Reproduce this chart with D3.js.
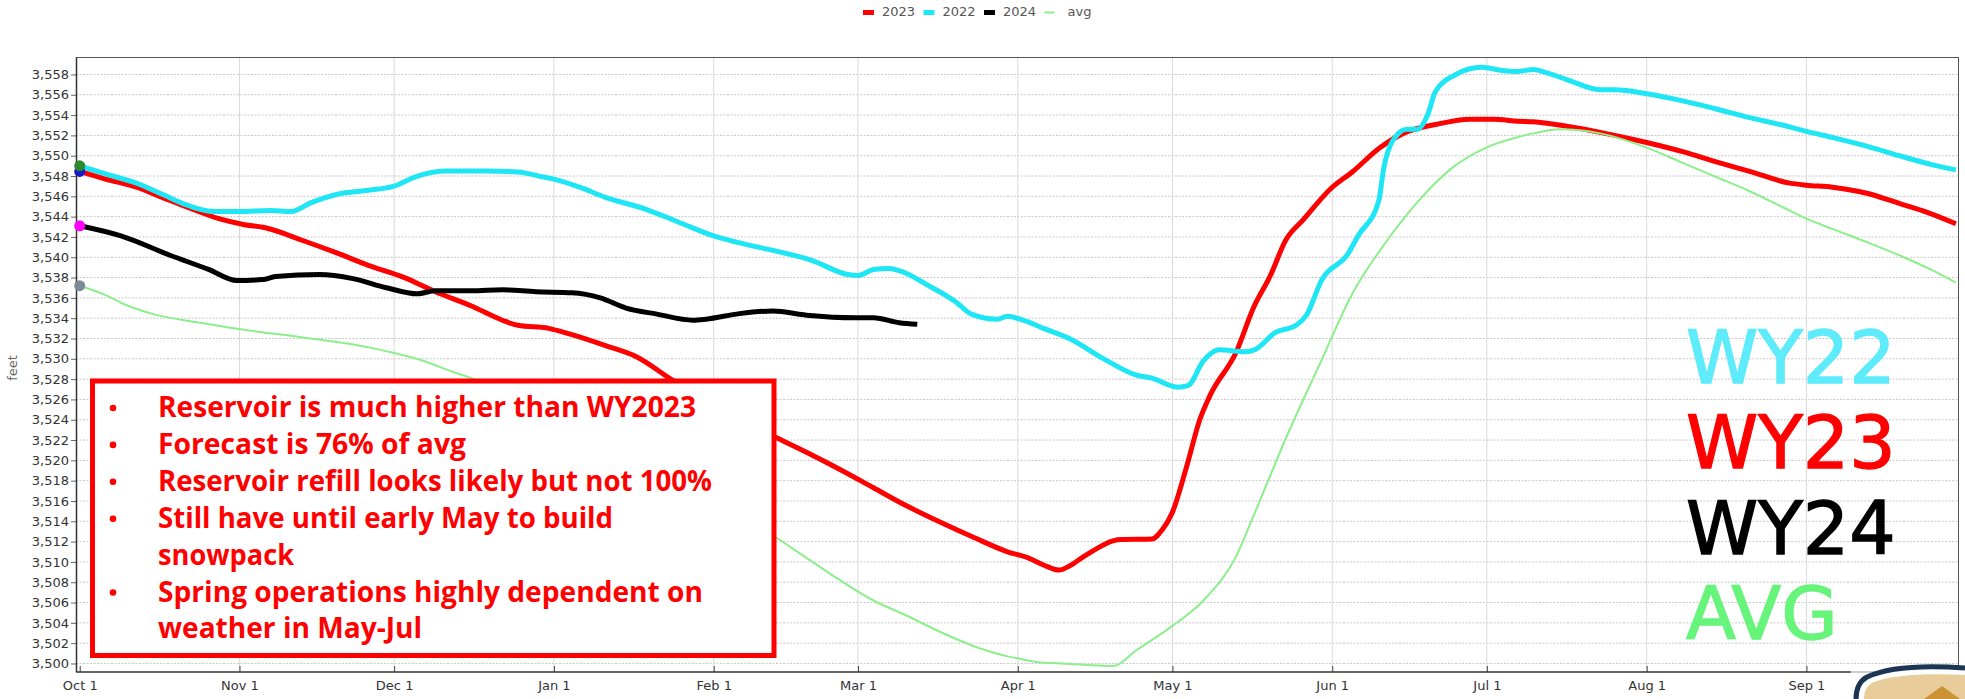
<!DOCTYPE html>
<html><head><meta charset="utf-8">
<script src="https://cdn.jsdelivr.net/npm/d3@7"></script>
<style>body{margin:0;background:#fff}svg{display:block}</style>
</head><body>
<svg id="chart" width="1965" height="699"></svg>
<script>
// ---------------- DATA ----------------
// day = days since Oct 1 of the water year, value = reservoir elevation (feet)
const legendLabels = ["2023", "2022", "2024", "avg"];
const monthTickLabels = ["Oct 1","Nov 1","Dec 1","Jan 1","Feb 1","Mar 1","Apr 1","May 1","Jun 1","Jul 1","Aug 1","Sep 1"];
const yTickValues = [3500,3502,3504,3506,3508,3510,3512,3514,3516,3518,3520,3522,3524,3526,3528,3530,3532,3534,3536,3538,3540,3542,3544,3546,3548,3550,3552,3554,3556,3558];

const wy2022Days   = [0,5,11,16,21,26,31,37,41,45,50,56,61,65,71,79,85,90,92,97,102,110,116,123,129,136,142,149,151,154,157,160,164,170,173,178,180,183,187,192,199,205,208,213,215,218,221,226,228,232,236,238,241,246,248,252,253,255.5,257.5,259.5,261.5,263,267,272,276,279,282,285,288.5,295,298,304,311,317.5,324,330.5,335,340,347,353,359.5,364];
const wy2022Values = [3549.0,3548.2,3547.3,3546.2,3545.1,3544.5,3544.5,3544.6,3544.5,3545.4,3546.2,3546.6,3547.0,3547.9,3548.5,3548.5,3548.4,3547.9,3547.7,3546.9,3545.9,3544.7,3543.5,3542.1,3541.3,3540.5,3539.7,3538.3,3538.2,3538.8,3538.9,3538.5,3537.4,3535.6,3534.4,3533.9,3534.2,3533.8,3533.0,3532.0,3529.9,3528.4,3528.1,3527.2,3527.35,3529.8,3530.9,3530.7,3530.9,3532.6,3533.3,3534.3,3537.8,3540.3,3542.1,3545.5,3548.8,3552.0,3552.6,3552.6,3554.0,3556.3,3558.0,3558.7,3558.4,3558.3,3558.5,3558.1,3557.5,3556.5,3556.5,3556.1,3555.4,3554.6,3553.75,3553.0,3552.4,3551.8,3550.9,3550.0,3549.1,3548.6];

const wy2023Days   = [0,5,11,16,21,27,32,36,43,50,56,63,69,76,82,85,91,95,102,108,115,125,134.5,141,147.5,154,160.5,167,173.5,180,184,187,190,192,195,202,208,210,212,214.7,217.3,219.3,224.4,227.7,231,234,237.4,242.6,247,252.3,256.8,263.3,269.7,274.3,279,282,288.5,295,304,311,317.5,324,331.8,335,340,346.7,353,358.3,364];
const wy2023Values = [3548.45,3547.7,3546.9,3545.9,3544.9,3543.8,3543.2,3542.9,3541.7,3540.4,3539.2,3538.0,3536.6,3535.2,3533.8,3533.3,3533.0,3532.45,3531.3,3530.2,3527.9,3524.9,3522.4,3520.8,3519.1,3517.3,3515.5,3513.9,3512.4,3511.0,3510.4,3509.7,3509.2,3509.6,3510.6,3512.2,3512.25,3513.15,3514.9,3519.3,3524.0,3526.4,3530.7,3535.0,3538.2,3541.7,3543.7,3546.7,3548.45,3550.8,3552.2,3553.1,3553.6,3553.6,3553.4,3553.35,3552.9,3552.3,3551.3,3550.4,3549.4,3548.45,3547.3,3547.1,3546.9,3546.3,3545.3,3544.45,3543.3];

const wy2024Days   = [0,8,17.5,25,30.5,35.5,38,46.5,53,59.5,65.5,69,76,82,88.5,95.5,101,106,112,119,121.5,128,134.5,141,150.5,154,159,162.5];
const wy2024Values = [3543.1,3542.1,3540.2,3538.8,3537.7,3537.8,3538.1,3538.3,3537.9,3537.0,3536.4,3536.7,3536.7,3536.8,3536.6,3536.5,3536.0,3535.0,3534.4,3533.8,3533.9,3534.45,3534.7,3534.3,3534.05,3534.05,3533.55,3533.4];

const avgDays   = [0,4.5,9,14.3,24,30.5,43.4,56.3,60.8,66,72.5,77,90,105,120,134.5,141,147.5,154,160.5,167,173.5,180,183,186.3,189,195.3,200.5,205,212,218,224.4,227.7,234.2,240.6,247.1,253.5,260,266.4,272.9,278.8,282,287.2,295,304,311,317.5,324,330.5,335,340,346.7,353,359.5,364];
const avgValues = [3537.2,3536.4,3535.3,3534.4,3533.5,3532.95,3532.1,3531.1,3530.6,3529.9,3528.7,3527.9,3524.6,3520.3,3516.8,3512.6,3510.4,3508.2,3506.2,3504.7,3503.1,3501.7,3500.7,3500.4,3500.1,3500.05,3499.85,3499.75,3501.3,3503.7,3506.2,3510.6,3514.5,3522.4,3529.5,3536.6,3541.55,3545.7,3548.85,3550.8,3551.8,3552.2,3552.6,3552.2,3550.8,3549.3,3547.9,3546.5,3544.9,3543.8,3542.8,3541.5,3540.2,3538.7,3537.5];

const noteLines = [
  "Reservoir is much higher than WY2023",
  "Forecast is 76% of avg",
  "Reservoir refill looks likely but not 100%",
  "Still have until early May to build",
  "snowpack",
  "Spring operations highly dependent on",
  "weather in May-Jul"
];
const noteBullets = [true, true, true, true, false, true, false];
const sideLabels = ["WY22", "WY23", "WY24", "AVG"];

// ---------------- LAYOUT / STYLE ----------------
const plot = {left: 76, right: 1959, top: 57, bottom: 672};
const DAY = 86400000;
const base = Date.UTC(2022, 9, 1);
const toDate = d => new Date(base + d * DAY);
const noteWidths = [538, 308, 554, 455, 136, 545, 264];

const svg = d3.select("#chart");
const x = d3.scaleUtc().domain([toDate(-0.72), toDate(364.6)]).range([plot.left, plot.right]);
const y = d3.scaleLinear().domain([3499.16, 3559.72]).range([plot.bottom, plot.top]);

const monthDates = monthTickLabels.map((_, i) => new Date(Date.UTC(2022, 9 + i, 1)));

// gridlines
const g = svg.append("g");
g.selectAll("line.h").data(yTickValues).join("line")
  .attr("x1", plot.left).attr("x2", plot.right)
  .attr("y1", d => y(d)).attr("y2", d => y(d))
  .attr("stroke", "#c8c8c8").attr("stroke-width", 1).attr("stroke-dasharray", "2,1.5");
g.selectAll("line.v").data(monthDates.slice(1)).join("line")
  .attr("x1", d => x(d)).attr("x2", d => x(d))
  .attr("y1", plot.top).attr("y2", plot.bottom)
  .attr("stroke", "#dadada").attr("stroke-width", 1);

// axes
const yAxis = d3.axisLeft(y).tickValues(yTickValues).tickFormat(d3.format(",")).tickSize(5).tickPadding(2);
const ya = svg.append("g").attr("transform", `translate(${plot.left},0)`).call(yAxis);
ya.select(".domain").remove();
ya.selectAll("line").attr("stroke", "#666");
ya.selectAll("text").attr("font-family", "DejaVu Sans, Verdana, sans-serif").attr("font-size", 13).attr("fill", "#333");

const xAxis = d3.axisBottom(x).tickValues(monthDates).tickFormat((d, i) => monthTickLabels[i]).tickSize(-6).tickPadding(9);
const xa = svg.append("g").attr("transform", `translate(0,${plot.bottom})`).call(xAxis);
xa.select(".domain").remove();
xa.selectAll("line").attr("stroke", "#444");
xa.selectAll("text").attr("font-family", "DejaVu Sans, Verdana, sans-serif").attr("font-size", 13).attr("fill", "#333");

// frame
svg.append("line").attr("x1", plot.left).attr("x2", plot.right).attr("y1", plot.top + 0.5).attr("y2", plot.top + 0.5).attr("stroke", "#555");
svg.append("line").attr("x1", plot.right - 0.5).attr("x2", plot.right - 0.5).attr("y1", plot.top).attr("y2", plot.bottom).attr("stroke", "#555");
svg.append("line").attr("x1", plot.left + 0.5).attr("x2", plot.left + 0.5).attr("y1", plot.top).attr("y2", plot.bottom).attr("stroke", "#333").attr("stroke-width", 1.5);
svg.append("line").attr("x1", plot.left).attr("x2", plot.right).attr("y1", plot.bottom).attr("y2", plot.bottom).attr("stroke", "#333").attr("stroke-width", 1.5);

// "feet" label
svg.append("text").attr("transform", "translate(17,368) rotate(-90)")
  .attr("text-anchor", "middle").attr("font-family", "DejaVu Sans, Verdana, sans-serif")
  .attr("font-size", 13).attr("fill", "#666").text("feet");

// series
const series = [
  {days: wy2023Days, values: wy2023Values, color: "#ff0000", width: 5, dot: "#1a1acd"},
  {days: wy2022Days, values: wy2022Values, color: "#1ee6f4", width: 5, dot: "#2c8a2c"},
  {days: wy2024Days, values: wy2024Values, color: "#000000", width: 5, dot: "#ff00ff"},
  {days: avgDays,    values: avgValues,    color: "#8cee8c", width: 2, dot: "#7c8a98"}
];
const line = d3.line().x(d => x(toDate(d[0]))).y(d => y(d[1])).curve(d3.curveMonotoneX);
svg.append("clipPath").attr("id", "clip").append("rect")
  .attr("x", plot.left).attr("y", plot.top).attr("width", plot.right - plot.left).attr("height", plot.bottom - plot.top + 2);
series.forEach(s => {
  svg.append("path").datum(s.days.map((d, i) => [d, s.values[i]]))
    .attr("d", line).attr("fill", "none").attr("stroke", s.color)
    .attr("stroke-width", s.width).attr("stroke-linejoin", "round").attr("clip-path", "url(#clip)");
});
series.forEach(s => {
  svg.append("circle").attr("cx", x(toDate(s.days[0]))).attr("cy", y(s.values[0])).attr("r", 5.5).attr("fill", s.dot);
});

// note box
svg.append("rect").attr("x", 92.5).attr("y", 381).attr("width", 681.5).attr("height", 274.5)
  .attr("fill", "#fff").attr("stroke", "#ff0000").attr("stroke-width", 5);
const noteG = svg.append("g").attr("fill", "#ff0000");
noteLines.forEach((t, i) => {
  const by = 417 + i * 36.9;
  if (noteBullets[i]) noteG.append("circle").attr("cx", 113).attr("cy", by - 9).attr("r", 3.3);
  noteG.append("text").attr("x", 158).attr("y", by)
    .attr("font-family", "'Liberation Sans Narrow', 'Open Sans', 'Liberation Sans', sans-serif")
    .attr("font-weight", "bold").attr("font-size", 29)
    .attr("textLength", noteWidths[i]).attr("lengthAdjust", "spacingAndGlyphs")
    .text(t);
});

// side labels
const sideColors = ["#5eebfb", "#ff0000", "#000000", "#66f47a"];
sideLabels.forEach((t, i) => {
  svg.append("text").attr("x", 1686).attr("y", 383 + i * 85.3)
    .attr("font-family", "DejaVu Sans, Verdana, sans-serif").attr("font-size", 73)
    .attr("fill", sideColors[i]).attr("stroke", sideColors[i]).attr("stroke-width", 1.3)
    .text(t);
});

// legend
const legendColors = ["#ff0000", "#1ee6f4", "#000000", "#8cee8c"];
const lg = svg.append("g").attr("font-family", "DejaVu Sans, Verdana, sans-serif").attr("font-size", 13).attr("fill", "#555");
legendLabels.forEach((t, i) => {
  const x0 = 863 + i * 60.5;
  if (i < 3) lg.append("rect").attr("x", x0).attr("y", 10).attr("width", 11).attr("height", 5).attr("fill", legendColors[i]);
  else lg.append("line").attr("x1", x0).attr("x2", x0 + 10).attr("y1", 12.5).attr("y2", 12.5).attr("stroke", legendColors[i]).attr("stroke-width", 2);
  lg.append("text").attr("x", i < 3 ? x0 + 19 : x0 + 23).attr("y", 15.5).text(t);
});

// logo (bottom-right corner badge)
const logo = svg.append("g");
logo.append("rect").attr("x", 1851).attr("y", 669).attr("width", 114).attr("height", 30).attr("fill", "#fff");
logo.append("line").attr("x1", 1850).attr("x2", 1880).attr("y1", 672).attr("y2", 672).attr("stroke", "#999");
logo.append("path").attr("d", "M1864,699 C1864,692 1866,686 1874,682 C1892,675 1926,673 1965,675 L1965,699 Z").attr("fill", "#e8cd9a");
logo.append("path").attr("d", "M1924,699 L1942,686 L1960,699 Z").attr("fill", "#cc9233");
logo.append("path").attr("d", "M1856,699 C1856,690 1858,682 1867,677 C1886,668 1922,665 1965,668")
  .attr("fill", "none").attr("stroke", "#1c3552").attr("stroke-width", 5);
</script>
</body></html>
